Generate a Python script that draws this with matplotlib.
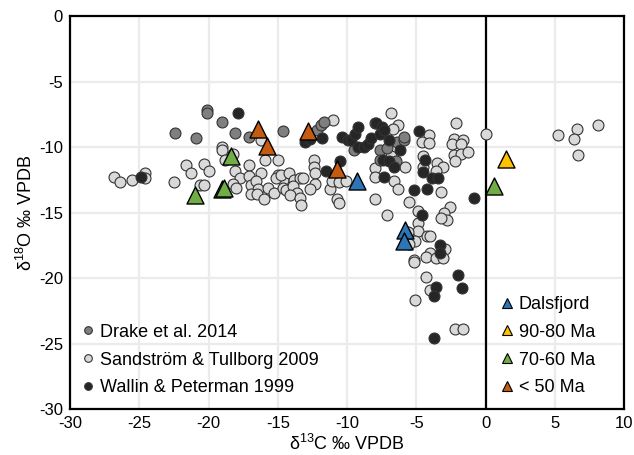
import matplotlib
matplotlib.use("Agg")
import matplotlib.pyplot as plt
from matplotlib.lines import Line2D

plt.rcParams['font.family'] = ['Liberation Sans', 'DejaVu Sans']
plt.rcParams['mathtext.fontset'] = 'custom'
plt.rcParams['mathtext.rm'] = 'Liberation Sans'
plt.rcParams['mathtext.it'] = 'Liberation Sans:italic'
plt.rcParams['axes.unicode_minus'] = False

# Drake et al. 2014
drake_c = [-22.4, -20.9, -20.1, -20.1, -19.0, -18.1, -17.1, -14.6, -12.2, -11.9, -11.7,
           -9.5, -7.6, -7.1, -6.4, -5.9, -5.9, -7.6, -6.5]
drake_o = [-8.9, -9.3, -7.2, -7.4, -8.1, -8.9, -9.2, -8.8, -8.7, -8.3, -8.1,
           -10.2, -10.2, -10.1, -9.6, -9.5, -9.2, -11.0, -11.1]

# Sandstrom & Tullborg 2009
sand_c = [-26.8, -26.4, -25.5, -24.6, -24.6, -22.5, -21.6, -21.3, -20.3, -20.0, -20.6,
          -19.0, -19.0, -18.8, -18.2, -18.1, -17.7, -17.1, -17.1, -16.2, -15.9, -16.2,
          -15.0, -15.0, -14.6, -18.2, -18.0, -16.9, -16.6, -16.4, -16.9, -16.5, -16.0,
          -15.7, -15.3, -14.6, -20.3, -15.1, -14.8, -14.2, -13.8, -13.4, -13.2, -14.4,
          -13.9, -13.6, -14.1, -13.4, -13.3, -12.4, -12.4, -12.3, -12.3, -12.7, -11.2,
          -11.1, -10.6, -10.1, -10.7, -10.6, -11.0,
          -6.8, -6.3, -6.7, -2.1, -4.1, -4.6, -4.1, -2.3, -1.6, -2.4, -1.8, -2.3, -1.8,
          -1.3, -2.2, -4.5, -3.5, -3.1, -3.6, -4.5, 0.0, -5.8, -8.0, -8.0, -6.6, -6.3,
          -3.2, -8.0, -5.5, -7.1, -2.6, -3.0, -2.8, -4.9, -4.9, -8.0, -6.8,
          -3.2, -4.9, -5.6, -4.2, -4.0, -5.1, -5.5, -2.9, -4.0, -4.3, -3.6, -3.1, -5.2,
          -5.2, -4.3, -4.0, -5.1, -2.2, -1.6,
          5.2, 6.6, 6.4, 8.1, 6.7]
sand_o = [-12.3, -12.7, -12.5, -12.0, -12.4, -12.7, -11.4, -12.0, -11.3, -11.8, -12.9,
          -10.0, -10.2, -11.0, -10.5, -11.8, -12.4, -11.4, -12.2, -9.5, -11.0, -12.0,
          -11.0, -12.1, -12.5, -12.8, -13.1, -12.9, -12.6, -13.2, -13.6, -13.6, -14.0,
          -13.1, -13.5, -13.1, -12.9, -12.4, -12.1, -12.0, -12.5, -12.4, -12.4, -13.3,
          -13.0, -13.5, -13.7, -13.9, -14.4, -11.0, -11.5, -12.0, -12.8, -13.2, -13.2,
          -12.6, -12.7, -12.6, -14.0, -14.3, -7.9,
          -7.4, -8.3, -8.6, -8.2, -9.1, -9.6, -9.7, -9.4, -9.5, -9.8, -9.8, -10.6, -10.5,
          -10.4, -11.1, -10.7, -11.2, -11.5, -11.8, -11.5, -9.0, -11.5, -11.6, -12.3, -12.6, -13.2,
          -13.4, -14.0, -14.2, -15.2, -14.6, -15.0, -15.6, -14.9, -15.8, -8.2, -10.7,
          -15.4, -16.4, -16.5, -16.8, -16.8, -17.2, -17.4, -17.8, -18.1, -18.4, -18.5, -18.5, -18.6,
          -18.8, -19.9, -20.9, -21.7, -23.9, -23.9,
          -9.1, -8.6, -9.4, -8.3, -10.6]

# Wallin & Peterman 1999
wall_c = [-24.9, -17.9, -13.0, -12.7, -11.8, -10.4, -10.5, -11.5, -9.9, -9.7, -9.4,
          -9.2, -9.2, -8.8, -8.5, -8.3, -7.9, -7.5, -7.6, -7.3, -7.0, -6.2, -4.8, -7.4,
          -7.0, -6.6, -7.3, -5.2, -4.4, -4.5, -3.9, -3.4, -4.2, -0.8, -4.6, -3.3, -3.3,
          -2.0, -1.7, -3.6, -3.7, -3.7]
wall_o = [-12.3, -7.4, -9.6, -9.4, -9.3, -9.2, -11.1, -11.8, -9.5, -9.5, -9.0,
          -8.5, -10.0, -10.0, -9.8, -9.3, -8.2, -8.5, -9.0, -8.7, -9.5, -10.2, -8.8, -11.0,
          -11.1, -11.5, -12.3, -13.3, -11.0, -11.9, -12.4, -12.4, -13.2, -13.9, -15.2, -17.5, -18.1,
          -19.8, -20.8, -20.7, -21.4, -24.6]

# triangle groups
dals_c = [-9.3, -5.8, -5.9]
dals_o = [-12.6, -16.3, -17.2]
ma90_c = [1.5]
ma90_o = [-10.9]
ma70_c = [-18.4, -21.0, -19.0, -18.9, 0.6]
ma70_o = [-10.7, -13.7, -13.2, -13.1, -13.0]
ma50_c = [-16.4, -15.8, -12.8, -10.7]
ma50_o = [-8.6, -9.9, -8.8, -11.7]

fig = plt.figure(figsize=(6.34, 4.55), dpi=100)
ax = fig.add_axes([0.1104, 0.1011, 0.874, 0.8637])

ax.set_xlim(-30, 10)
ax.set_ylim(-30, 0)
ax.set_xticks(range(-30, 11, 5))
ax.set_yticks(range(-30, 1, 5))
ax.grid(True, color='#ebebeb', linewidth=1.6)
ax.set_axisbelow(True)
ax.tick_params(length=0, labelsize=12, pad=5)
for s in ax.spines.values():
    s.set_linewidth(1.6)
    s.set_color('black')
ax.axvline(0, color='black', linewidth=1.6, zorder=2)

ec = '#333333'
ax.scatter(sand_c, sand_o, s=62, c='#d9d9d9', edgecolors=ec, linewidths=0.8, zorder=3)
ax.scatter(drake_c, drake_o, s=62, c='#7f7f7f', edgecolors=ec, linewidths=0.8, zorder=4)
ax.scatter(wall_c, wall_o, s=62, c='#262626', edgecolors=ec, linewidths=0.8, zorder=5)

tri = [(dals_c, dals_o, '#2e75b6'), (ma90_c, ma90_o, '#ffc000'),
       (ma70_c, ma70_o, '#70ad47'), (ma50_c, ma50_o, '#c55a11')]
for xs, ys, col in tri:
    ax.scatter(xs, ys, s=150, marker='^', c=col, edgecolors='black', linewidths=1.0, zorder=6)

ax.set_xlabel('δ$^{13}$C ‰ VPDB', fontsize=13, labelpad=2)
ax.set_ylabel('δ$^{18}$O ‰ VPDB', fontsize=13, labelpad=2)

h1 = [Line2D([], [], marker='o', linestyle='none', markersize=5.5, markerfacecolor=fc,
             markeredgecolor=ec, markeredgewidth=0.8)
      for fc in ['#7f7f7f', '#d9d9d9', '#262626']]
leg1 = ax.legend(h1, ['Drake et al. 2014', 'Sandström & Tullborg 2009', 'Wallin & Peterman 1999'],
                 loc='lower left', bbox_to_anchor=(-0.011, 0.0), frameon=False, fontsize=13,
                 handletextpad=0.0, handlelength=1.3, labelspacing=0.6, borderaxespad=0.3)
ax.add_artist(leg1)

h2 = [Line2D([], [], marker='^', linestyle='none', markersize=7, markerfacecolor=col,
             markeredgecolor='black', markeredgewidth=0.8)
      for col in ['#2e75b6', '#ffc000', '#70ad47', '#c55a11']]
ax.legend(h2, ['Dalsfjord', '90-80 Ma', '70-60 Ma', '< 50 Ma'],
          loc='lower left', bbox_to_anchor=(0.745, 0.0), frameon=False, fontsize=13,
          handletextpad=0.0, handlelength=1.3, labelspacing=0.6, borderaxespad=0.3)

fig.savefig('out.png', dpi=100)
